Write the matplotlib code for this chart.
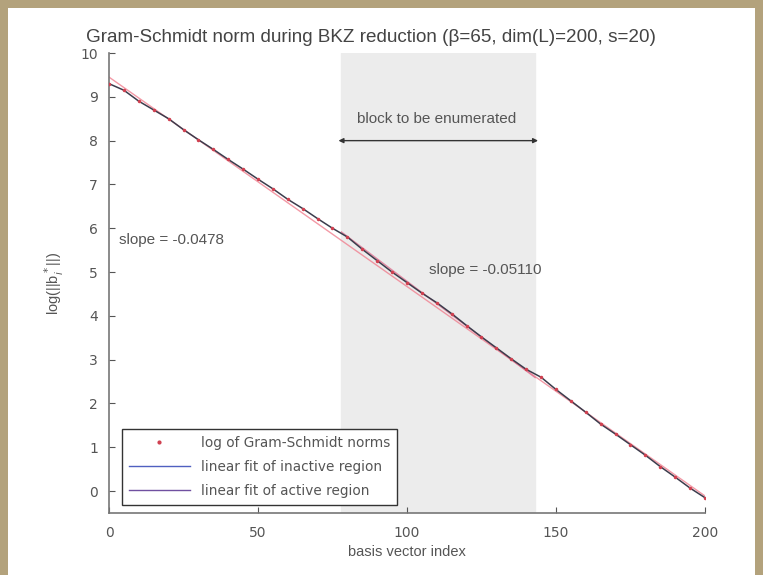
import numpy as np
import matplotlib
matplotlib.use('Agg')
import matplotlib.pyplot as plt
from matplotlib.patches import Rectangle

# values (every 5th basis vector)
idx = [0, 5, 10, 15, 20, 25, 30, 35, 40, 45, 50, 55, 60, 65, 70, 75, 80, 85, 90, 95, 100,
       105, 110, 115, 120, 125, 130, 135, 140, 145, 150, 155, 160, 165, 170, 175, 180, 185, 190, 195, 200]
log_gs = [9.3, 9.15, 8.9, 8.7, 8.5, 8.25, 8.02, 7.8, 7.57, 7.35, 7.12, 6.9, 6.66, 6.45, 6.22, 6.0,
          5.8, 5.52, 5.26, 5.0, 4.76, 4.52, 4.3, 4.05, 3.78, 3.52, 3.27, 3.02, 2.78, 2.6, 2.32, 2.06,
          1.8, 1.53, 1.3, 1.06, 0.82, 0.56, 0.32, 0.07, -0.15]

# linear fits (intercept, slope, range)
inactive_fit = (9.45, -0.0478, 0, 200)
active_fit = (9.9, -0.0511, 78, 143)
block = (78, 143)

fig = plt.figure(figsize=(7.63, 5.75), dpi=100, facecolor='#b3a27c')
# white sheet inside the tan frame
sheet = Rectangle((8 / 763, 0), 747 / 763, 567 / 575, transform=fig.transFigure,
                  facecolor='white', edgecolor='none', zorder=-10)
fig.add_artist(sheet)

ax = fig.add_axes([0.1429, 0.1078, 0.781, 0.80])
ax.set_facecolor('white')

ax.axvspan(block[0], block[1], color='#ececec', zorder=0)

ax.plot(idx, log_gs, color='#3c3c4c', linewidth=1.1, marker='.', markersize=3,
        markerfacecolor='#d04050', markeredgecolor='#d04050', zorder=3)

b, m, x0, x1 = inactive_fit
xs = np.array([x0, x1])
ax.plot(xs, b + m * xs, color='#f08090', linewidth=1.0, alpha=0.8, zorder=2)
b, m, x0, x1 = active_fit
xs = np.array([x0, x1])
ax.plot(xs, b + m * xs, color='#e07090', linewidth=1.0, alpha=0.8, zorder=2)

# legend proxies
ax.plot([], [], linestyle='none', marker='.', markersize=4, color='#d04050',
        label='log of Gram-Schmidt norms')
ax.plot([], [], color='#5060c0', linewidth=1.0, label='linear fit of inactive region')
ax.plot([], [], color='#7050a0', linewidth=1.0, label='linear fit of active region')

ax.annotate('', xy=(block[0] - 1, 8.0), xytext=(block[1] + 1, 8.0),
            arrowprops=dict(arrowstyle='<|-|>', color='#333333', lw=1.0,
                            mutation_scale=7, shrinkA=0, shrinkB=0))
ax.text(110, 8.5, 'block to be enumerated', ha='center', va='center',
        fontsize=11, color='#555555', family='Liberation Sans')
ax.text(3.5, 5.73, 'slope = -0.0478', ha='left', va='center',
        fontsize=11, color='#555555', family='Liberation Sans')
ax.text(107.5, 5.05, 'slope = -0.05110', ha='left', va='center',
        fontsize=11, color='#555555', family='Liberation Sans')

ax.set_xlim(0, 200)
ax.set_ylim(-0.5, 10)
ax.set_xticks([0, 50, 100, 150, 200])
ax.set_yticks(range(0, 11))
ax.tick_params(direction='in', length=4, colors='#555555', labelsize=10)
ax.tick_params(axis='x', pad=9)
ax.tick_params(axis='y', pad=8)
for s in ['top', 'right']:
    ax.spines[s].set_visible(False)
for s in ['left', 'bottom']:
    ax.spines[s].set_color('#777777')
    ax.spines[s].set_linewidth(1.2)

ax.set_xlabel('basis vector index', fontsize=10.5, color='#555555', family='Liberation Sans',
              labelpad=4)
ax.set_ylabel(r'log(||b$_i^*$||)', fontsize=10.5, color='#555555', family='Liberation Sans',
              labelpad=10)
fig.text(0.486, 0.934, 'Gram-Schmidt norm during BKZ reduction (β=65, dim(L)=200, s=20)',
         ha='center', va='center', fontsize=13.6, color='#444444', family='Liberation Sans')

leg = ax.legend(loc='lower left', bbox_to_anchor=(0.01, 0.003), fontsize=9.8,
                frameon=True, fancybox=False, edgecolor='#333333', framealpha=1,
                handlelength=4.5, borderpad=0.5, labelspacing=0.75)
for t in leg.get_texts():
    t.set_color('#555555')

fig.savefig('out.png', dpi=100, facecolor=fig.get_facecolor())
